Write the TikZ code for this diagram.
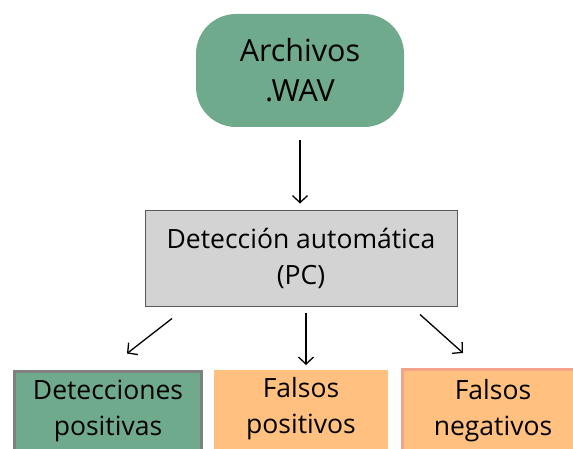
\documentclass[tikz,border=0pt]{standalone}
\usepackage{fontspec}
\setmainfont{Open Sans}
\usetikzlibrary{arrows.meta}

\definecolor{wavgreen}{RGB}{111,170,140}
\definecolor{pcgray}{RGB}{211,211,211}
\definecolor{falsorange}{RGB}{255,192,128}
\definecolor{salmonline}{RGB}{245,162,138}

\begin{document}
\begin{tikzpicture}[x=1pt,y=-1pt,
  txt/.style={align=center,font=\fontsize{26.5}{36}\selectfont,inner sep=0pt},
  outbox/.style={minimum width=#1,minimum height=110,anchor=north,inner sep=0pt},
  arr/.style={line width=1.3pt,-{Straight Barb[length=7pt,width=15pt,line width=1.3pt]}}]
\useasboundingbox (0,0) rectangle (573,449);
\node[fill=wavgreen,rounded corners=40pt,minimum width=208,minimum height=113,
  txt,font=\fontsize{30.5}{40}\selectfont] (wav) at (300,70.5) {Archivos\\.WAV};
\node[fill=pcgray,draw=black!65,line width=1pt,minimum width=312,minimum height=95,
  txt] (pc) at (301,258.5) {Detección automática\\(PC)};
% boxes at the bottom, cut by the page edge
\node[outbox=187,fill=wavgreen,draw=black!50,line width=3pt] (det) at (108,369.5) {};
\node[outbox=174,fill=falsorange] (fp) at (301,370) {};
\node[outbox=182,fill=falsorange,draw=salmonline,line width=3pt] (fn) at (493,367.5) {};
\node[txt] (dett) at ([yshift=-41]det.north) {Detecciones\\positivas};
\node[txt] (fpt) at ([yshift=-39]fp.north) {Falsos\\positivos};
\node[txt] (fnt) at ([yshift=-43]fn.north) {Falsos\\negativos};
\draw[arr] ([yshift=-13]wav.south) -- ([shift={(-1,-7)}]pc.north);
\draw[arr] ([shift={(-129,12)}]pc.south) -- ([shift={(19,-16)}]det.north);
\draw[arr] ([shift={(5,6)}]pc.south) -- ([shift={(5,-5)}]fp.north);
\draw[arr] ([shift={(119,8)}]pc.south) -- ([shift={(-30,-14.5)}]fn.north);
\end{tikzpicture}
\end{document}
